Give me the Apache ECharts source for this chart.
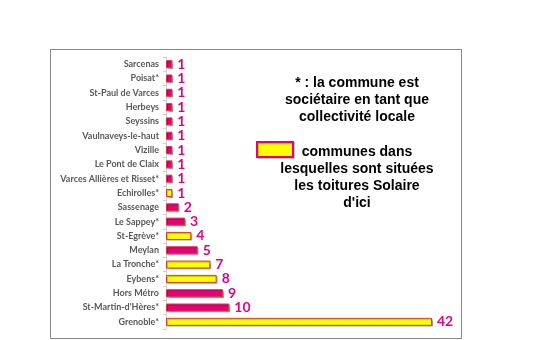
<!DOCTYPE html>
<html><head><meta charset="utf-8">
<script src="https://cdn.jsdelivr.net/npm/echarts@6/dist/echarts.min.js"></script>
<style>html,body{margin:0;padding:0;background:#fff}#c{width:542px;height:340px}</style>
</head><body><div id="c"></div>
<script>
const categories = ["Sarcenas","Poisat*","St-Paul de Varces","Herbeys","Seyssins","Vaulnaveys-le-haut","Vizille","Le Pont de Claix","Varces Allières et Risset*","Echirolles*","Sassenage","Le Sappey*","St-Egrève*","Meylan","La Tronche*","Eybens*","Hors Métro","St-Martin-d'Hères*","Grenoble*"];
const values = [1,1,1,1,1,1,1,1,1,1,2,3,4,5,7,8,9,10,42];
const solaire = [false,false,false,false,false,false,false,false,false,true,false,false,true,false,true,true,false,false,true];
const note1 = ["* : la commune est","sociétaire en tant que","collectivité locale"];
const note2 = ["communes dans","lesquelles sont situées","les toitures Solaire","d'ici"];

const MAG = '#E6007E', YEL = '#FFFF00';
const chart = echarts.init(document.getElementById('c'), null, {renderer:'canvas'});
const data = values.map((v,i)=>({value:v, itemStyle:{color: solaire[i]?YEL:MAG}}));
const txt = (lines, y0) => lines.map((t,i)=>({type:'text', x:357, y:y0+i*17,
  style:{text:t, x:0, y:0, textAlign:'center', textVerticalAlign:'middle', font:'bold 14px "Liberation Sans", Arial', fill:'#000'}}));
chart.setOption({
  animation:false,
  backgroundColor:'#fff',
  grid:{left:166, width:285, top:57, height:272},
  xAxis:{type:'value', min:0, max:45, show:false},
  yAxis:{type:'category', data:categories, inverse:true,
    axisLine:{show:true, lineStyle:{color:'#d0d0d0'}},
    axisTick:{show:true, length:3, lineStyle:{color:'#d0d0d0'}},
    axisLabel:{margin:7, color:'#595959', fontFamily:'Lato', fontWeight:'bold', fontSize:9}},
  series:[{type:'bar', data:data, barWidth:8,
    itemStyle:{borderColor:'#c8403a', borderWidth:1, shadowColor:'rgba(0,0,0,0.25)', shadowOffsetX:1, shadowOffsetY:1, shadowBlur:1},
    label:{show:true, position:'right', distance:5, color:MAG, fontFamily:'Lato', fontWeight:'bold', fontSize:14}}],
  graphic:[
    {type:'rect', shape:{x:50.5, y:49.5, width:411, height:289}, style:{fill:null, stroke:'#888', lineWidth:1}, silent:true},
    {type:'rect', shape:{x:257, y:142, width:36, height:15}, style:{fill:YEL, stroke:MAG, lineWidth:2, shadowColor:'rgba(0,0,0,0.25)', shadowOffsetX:1, shadowOffsetY:1, shadowBlur:1}},
    ...txt(note1, 83),
    ...txt(note2, 152)
  ]
});
</script></body></html>
